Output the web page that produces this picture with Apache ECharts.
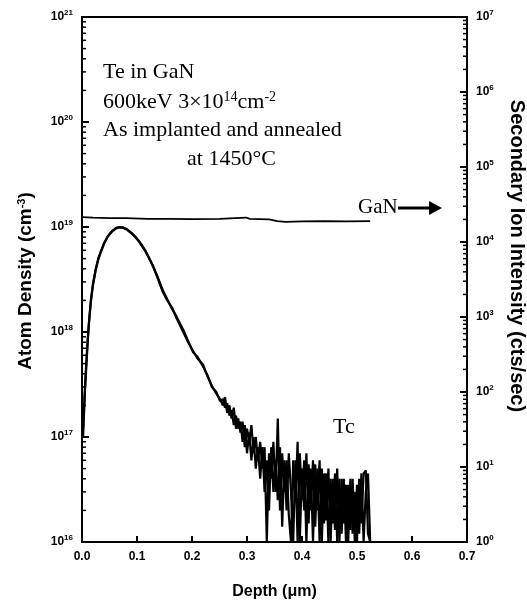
<!DOCTYPE html>
<html>
<head>
<meta charset="utf-8">
<script src="https://cdn.jsdelivr.net/npm/echarts@6/dist/echarts.min.js"></script>
<style>html,body{margin:0;padding:0;background:#fff}#c{width:527px;height:605px}</style>
</head>
<body>
<div id="c"></div>
<script>
// ---- Data ----
var xTicks = [0.0, 0.1, 0.2, 0.3, 0.4, 0.5, 0.6, 0.7];
var leftDecades = [16, 17, 18, 19, 20, 21];
var rightDecades = [0, 1, 2, 3, 4, 5, 6, 7];

// GaN matrix signal (right axis, cts/sec)
var ganSignal = [
  [0.000, 2.15e4], [0.020, 2.12e4], [0.050, 2.08e4], [0.080, 2.08e4], [0.120, 2.04e4],
  [0.160, 2.03e4], [0.200, 2.02e4], [0.250, 2.03e4], [0.298, 2.12e4], [0.305, 2.03e4],
  [0.340, 2.0e4], [0.355, 1.9e4], [0.370, 1.86e4], [0.400, 1.88e4], [0.440, 1.89e4],
  [0.480, 1.88e4], [0.524, 1.9e4]
];

// Te profile, annealed (left axis, cm^-3)
var teAnnealed = [
  [0.002, 1.2e17], [0.006, 3.5e17], [0.010, 8e17], [0.013, 1.3e18], [0.016, 1.9e18],
  [0.020, 2.8e18], [0.025, 3.9e18], [0.030, 5e18], [0.035, 5.9e18], [0.040, 6.9e18],
  [0.047, 8.1e18], [0.055, 9.1e18], [0.062, 9.7e18], [0.068, 9.9e18], [0.075, 9.8e18],
  [0.082, 9.4e18], [0.090, 8.7e18], [0.098, 7.9e18], [0.105, 7.1e18], [0.115, 5.9e18],
  [0.122, 5.0e18], [0.129, 4.3e18], [0.138, 3.2e18], [0.147, 2.4e18], [0.155, 2.0e18],
  [0.164, 1.7e18], [0.172, 1.35e18], [0.184, 1.0e18], [0.193, 8e17], [0.202, 6.6e17],
  [0.210, 5.6e17], [0.220, 4.9e17], [0.228, 3.8e17], [0.236, 3.1e17], [0.244, 2.6e17],
  [0.251, 2.3e17], [0.256, 2.0e17], [0.260, 2.4e17], [0.264, 1.7e17], [0.268, 2.0e17],
  [0.272, 1.5e17], [0.276, 1.9e17], [0.280, 1.2e17], [0.284, 1.5e17], [0.288, 1.1e17],
  [0.292, 1.4e17], [0.296, 8e16], [0.300, 1.2e17], [0.304, 9e16], [0.308, 1.3e17],
  [0.312, 7e16], [0.316, 1.0e17], [0.320, 6e16], [0.324, 9e16], [0.328, 5e16],
  [0.332, 8e16], [0.336, 1.0e16], [0.340, 7e16], [0.344, 4e16], [0.348, 9e16],
  [0.352, 3e16], [0.356, 1.5e17], [0.360, 2e16], [0.364, 7e16], [0.368, 3e16],
  [0.372, 6e16], [0.376, 1.8e16], [0.380, 1.0e16], [0.384, 6e16], [0.388, 2.5e16],
  [0.392, 9e16], [0.396, 1.0e16], [0.400, 5e16], [0.404, 2e16], [0.408, 7e16],
  [0.412, 1.5e16], [0.416, 5e16], [0.420, 1.0e16], [0.424, 5.5e16], [0.428, 2e16],
  [0.432, 6e16], [0.436, 1.0e16], [0.440, 4.5e16], [0.444, 1.6e16], [0.448, 5e16],
  [0.452, 1.0e16], [0.456, 4e16], [0.460, 1.3e16], [0.464, 5e16], [0.468, 1.0e16],
  [0.472, 4e16], [0.476, 1.5e16], [0.480, 3.5e16], [0.484, 1.0e16], [0.488, 4e16],
  [0.492, 1.2e16], [0.496, 3e16], [0.500, 1.0e16], [0.504, 4e16], [0.508, 1.5e16],
  [0.512, 4.5e16], [0.516, 4.8e16], [0.520, 1.2e16], [0.524, 1.0e16]
];

// Te profile, as implanted (left axis, cm^-3)
var teImplanted = [
  [0.002, 1.0e17], [0.005, 2.5e17], [0.009, 6e17], [0.012, 1.1e18], [0.016, 2.0e18],
  [0.020, 2.9e18], [0.025, 4.0e18], [0.030, 5.1e18], [0.035, 6.0e18], [0.040, 7.0e18],
  [0.047, 8.2e18], [0.055, 9.2e18], [0.062, 9.8e18], [0.068, 1.0e19], [0.075, 9.9e18],
  [0.082, 9.5e18], [0.090, 8.8e18], [0.098, 8.0e18], [0.105, 7.2e18], [0.115, 6.0e18],
  [0.122, 5.1e18], [0.129, 4.2e18], [0.138, 3.3e18], [0.147, 2.5e18], [0.155, 2.05e18],
  [0.164, 1.65e18], [0.172, 1.4e18], [0.184, 1.05e18], [0.193, 8.2e17], [0.202, 6.4e17],
  [0.210, 5.8e17], [0.220, 4.7e17], [0.228, 3.9e17], [0.236, 3.0e17], [0.244, 2.7e17],
  [0.251, 2.2e17], [0.256, 2.3e17], [0.260, 1.9e17], [0.264, 2.1e17], [0.268, 1.6e17],
  [0.272, 1.8e17], [0.276, 1.3e17], [0.280, 1.6e17], [0.284, 1.2e17], [0.288, 1.4e17],
  [0.292, 9e16], [0.296, 1.3e17], [0.300, 7e16], [0.304, 1.1e17], [0.308, 6e16],
  [0.312, 1.0e17], [0.316, 5e16], [0.320, 8e16], [0.324, 4e16], [0.328, 8e16],
  [0.332, 3e16], [0.336, 6e16], [0.340, 2e16], [0.344, 8e16], [0.348, 3e16],
  [0.352, 6e16], [0.356, 2.5e16], [0.360, 8e16], [0.364, 1.4e16], [0.368, 6e16],
  [0.372, 2e16], [0.376, 7e16], [0.380, 3e16], [0.384, 1.0e16], [0.388, 6e16],
  [0.392, 1.0e16], [0.396, 7e16], [0.400, 2.5e16], [0.404, 6e16], [0.408, 1.0e16],
  [0.412, 5.5e16], [0.416, 2e16], [0.420, 6e16], [0.424, 1.4e16], [0.428, 5e16],
  [0.432, 1.0e16], [0.436, 5e16], [0.440, 1.5e16], [0.444, 4.5e16], [0.448, 1.0e16],
  [0.452, 4e16], [0.456, 1.5e16], [0.460, 4.5e16], [0.464, 1.0e16], [0.468, 4e16],
  [0.472, 1.2e16], [0.476, 4e16], [0.480, 1.0e16], [0.484, 3.5e16], [0.488, 1.3e16],
  [0.492, 4e16], [0.496, 1.0e16], [0.500, 3.5e16], [0.504, 1.2e16], [0.508, 4.5e16],
  [0.512, 1.0e16], [0.516, 3e16], [0.520, 4.5e16], [0.524, 1.0e16]
];

// ---- Chart ----
var SANS = '"Liberation Sans", Arial, sans-serif';
var SERIF = '"Liberation Serif", "Times New Roman", serif';

function minorTicks(decades) {
  var out = [];
  for (var i = 0; i < decades.length - 1; i++) {
    for (var m = 2; m <= 9; m++) out.push(m * Math.pow(10, decades[i]));
  }
  return out;
}
var leftMinor = minorTicks(leftDecades).map(function (v) { return [0, v]; });
var rightMinor = minorTicks(rightDecades).map(function (v) { return [0.7, v]; });

function powLabel(v) {
  var e = Math.round(Math.log10(v));
  return '{b|10}{s|' + e + '}';
}
var labelRich = {
  b: { fontFamily: SANS, fontWeight: 'bold', fontSize: 12, color: '#000' },
  s: { fontFamily: SANS, fontWeight: 'bold', fontSize: 8, color: '#000', padding: [0, 0, 8, 0] }
};

var chart = echarts.init(document.getElementById('c'), null, { renderer: 'canvas' });
chart.setOption({
  animation: false,
  backgroundColor: '#fff',
  grid: { left: 82, right: 60, top: 17, bottom: 60, show: true, borderColor: '#000', borderWidth: 2 },
  xAxis: {
    type: 'value', min: 0, max: 0.7, interval: 0.1,
    axisLine: { show: true, lineStyle: { color: '#000', width: 2 } },
    axisTick: { show: true, inside: true, length: 6, lineStyle: { color: '#000', width: 2 } },
    splitLine: { show: false },
    axisLabel: { margin: 9, fontFamily: SANS, fontWeight: 'bold', fontSize: 12, color: '#000',
      formatter: function (v) { return v.toFixed(1); } },
    name: 'Depth (\u03bcm)', nameLocation: 'middle', nameGap: 42,
    nameTextStyle: { fontFamily: SANS, fontWeight: 'bold', fontSize: 16, color: '#000' }
  },
  yAxis: [
    {
      type: 'log', logBase: 10, min: 1e16, max: 1e21, position: 'left',
      axisLine: { show: true, lineStyle: { color: '#000', width: 2 } },
      axisTick: { show: true, inside: true, length: 7, lineStyle: { color: '#000', width: 2 } },
      splitLine: { show: false },
      axisLabel: { margin: 9, formatter: powLabel, rich: labelRich }
    },
    {
      type: 'log', logBase: 10, min: 1, max: 1e7, position: 'right',
      axisLine: { show: true, lineStyle: { color: '#000', width: 2 } },
      axisTick: { show: true, inside: true, length: 7, lineStyle: { color: '#000', width: 2 } },
      splitLine: { show: false },
      axisLabel: { margin: 9, formatter: powLabel, rich: labelRich }
    }
  ],
  series: [
    {
      type: 'line', name: 'GaN', yAxisIndex: 1, data: ganSignal, showSymbol: false,
      lineStyle: { color: '#000', width: 1.8 }
    },
    {
      type: 'line', name: 'Te annealed', yAxisIndex: 0, data: teAnnealed, showSymbol: false,
      lineStyle: { color: '#000', width: 2.2 }
    },
    {
      type: 'line', name: 'Te as implanted', yAxisIndex: 0, data: teImplanted, showSymbol: false,
      lineStyle: { color: '#000', width: 2.2 }
    },
    {
      type: 'custom', yAxisIndex: 0, data: leftMinor, clip: false, silent: true,
      renderItem: function (params, api) {
        var p = api.coord([api.value(0), api.value(1)]);
        return { type: 'line', shape: { x1: p[0], y1: p[1], x2: p[0] + 4, y2: p[1] },
          style: { stroke: '#000', lineWidth: 1.5 } };
      }
    },
    {
      type: 'custom', yAxisIndex: 1, data: rightMinor, clip: false, silent: true,
      renderItem: function (params, api) {
        var p = api.coord([api.value(0), api.value(1)]);
        return { type: 'line', shape: { x1: p[0], y1: p[1], x2: p[0] - 4, y2: p[1] },
          style: { stroke: '#000', lineWidth: 1.5 } };
      }
    }
  ],
  graphic: [
    { type: 'text', left: 103, top: 61, style: { text: 'Te in GaN', font: '22px ' + SERIF, fill: '#000' } },
    { type: 'text', left: 103, top: 90, style: {
      text: '600keV 3\u00d710{s|14}cm{s|-2}', font: '22px ' + SERIF, fill: '#000',
      rich: { s: { fontFamily: SERIF, fontSize: 14, padding: [0, 0, 10, 0] } } } },
    { type: 'text', left: 103, top: 119, style: { text: 'As implanted and annealed', font: '22px ' + SERIF, fill: '#000' } },
    { type: 'text', left: 187, top: 148, style: { text: 'at 1450\u00b0C', font: '22px ' + SERIF, fill: '#000' } },
    { type: 'text', left: 358, top: 197, style: { text: 'GaN', font: '21px ' + SERIF, fill: '#000' } },
    { type: 'line', shape: { x1: 398, y1: 208, x2: 432, y2: 208 }, style: { stroke: '#000', lineWidth: 3 } },
    { type: 'polygon', shape: { points: [[429, 201], [442, 208], [429, 215]] }, style: { fill: '#000' } },
    { type: 'text', left: 333, top: 416, style: { text: 'Tc', font: '22px ' + SERIF, fill: '#000' } },
    { type: 'text', x: 26, y: 281, rotation: Math.PI / 2, style: {
      text: 'Atom Density (cm{s|-3})', font: 'bold 19px ' + SANS, fill: '#000', align: 'center', verticalAlign: 'middle',
      rich: { s: { fontFamily: SANS, fontWeight: 'bold', fontSize: 11, padding: [0, 0, 9, 0] } } } },
    { type: 'text', x: 517, y: 256, rotation: -Math.PI / 2, style: {
      text: 'Secondary Ion Intensity (cts/sec)', font: 'bold 20px ' + SANS, fill: '#000', align: 'center', verticalAlign: 'middle' } }
  ]
});
</script>
</body>
</html>
